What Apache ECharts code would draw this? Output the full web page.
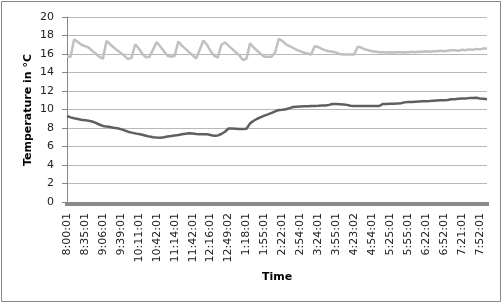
<!DOCTYPE html>
<html>
<head>
<meta charset="utf-8">
<script src="https://cdn.jsdelivr.net/npm/echarts@6/dist/echarts.min.js"></script>
<style>
html,body{margin:0;padding:0;background:#fff;}
#chart{width:503px;height:304px;}
</style>
</head>
<body>
<div id="chart"></div>
<script>
// Visible time labels (every 5th sample)
var timeLabels = ['8:00:01','8:35:01','9:06:01','9:39:01','10:11:01','10:42:01','11:14:01','11:42:01','12:16:01','12:49:02','1:18:01','1:55:01','2:22:01','2:54:01','3:24:01','3:55:01','4:23:02','4:54:01','5:25:01','5:55:01','6:22:01','6:52:01','7:21:01','7:52:01'];
var samplesPerLabel = 5;

// Upper (light) temperature series
var seriesLight = [
15.7,15.7,17.6,17.3,17.0,16.85,16.7,16.35,16.05,15.7,
15.5,17.4,17.05,16.7,16.4,16.1,15.8,15.45,15.6,17.05,
16.6,16.0,15.65,15.7,16.5,17.3,16.8,16.3,15.8,15.7,
15.8,17.35,16.9,16.55,16.2,15.85,15.5,16.5,17.45,17.0,
16.3,15.8,15.6,17.0,17.25,16.9,16.55,16.2,15.85,15.35,
15.5,17.15,16.7,16.35,16.0,15.7,15.7,15.7,16.2,17.65,
17.4,17.05,16.85,16.65,16.45,16.3,16.15,16.05,15.95,16.85,
16.75,16.55,16.4,16.3,16.25,16.15,16.0,15.95,15.95,15.95,
15.95,16.8,16.7,16.5,16.4,16.3,16.25,16.2,16.2,16.15,
16.2,16.15,16.2,16.2,16.15,16.2,16.25,16.2,16.25,16.25,
16.3,16.25,16.3,16.3,16.35,16.3,16.35,16.4,16.4,16.35,
16.45,16.4,16.5,16.45,16.55,16.5,16.6,16.6
];

// Lower (dark) temperature series
var seriesDark = [
9.3,9.15,9.05,8.98,8.9,8.85,8.78,8.7,8.55,8.38,
8.22,8.15,8.1,8.03,7.98,7.88,7.75,7.6,7.5,7.42,
7.34,7.27,7.17,7.07,7.0,6.97,6.95,7.0,7.07,7.13,
7.2,7.25,7.32,7.38,7.42,7.4,7.35,7.32,7.32,7.32,
7.25,7.15,7.2,7.35,7.6,7.95,7.95,7.93,7.9,7.9,
7.92,8.5,8.78,9.0,9.17,9.33,9.47,9.63,9.8,9.95,
9.98,10.03,10.15,10.27,10.3,10.32,10.34,10.36,10.38,10.39,
10.4,10.42,10.44,10.5,10.6,10.6,10.58,10.55,10.5,10.4,
10.38,10.38,10.38,10.38,10.38,10.38,10.38,10.38,10.6,10.6,
10.62,10.63,10.65,10.67,10.77,10.8,10.82,10.84,10.86,10.88,
10.9,10.92,10.95,10.97,10.99,11.01,11.03,11.1,11.12,11.15,
11.18,11.2,11.23,11.25,11.27,11.2,11.15,11.1
];

var yTicks = {min:0, max:20, interval:2};

var categories = [];
for (var i = 0; i < seriesLight.length; i++) {
  categories.push(i % samplesPerLabel === 0 && timeLabels[i / samplesPerLabel] ? timeLabels[i / samplesPerLabel] : '');
}

var FONT = 'DejaVu Sans';
var chart = echarts.init(document.getElementById('chart'), null, {renderer:'canvas'});
chart.setOption({
  animation: false,
  backgroundColor: '#ffffff',
  grid: {left: 67, top: 17, width: 420, height: 185, containLabel: false},
  xAxis: {
    type: 'category',
    data: categories,
    boundaryGap: false,
    axisLine: {show: true, lineStyle: {color: '#868686', width: 1}},
    axisTick: {show: true, interval: 0, length: 4, lineStyle: {color: '#8a8a8a', width: 4}},
    axisLabel: {interval: samplesPerLabel - 1, rotate: 90, margin: 11, fontFamily: FONT, fontSize: 11, color: '#222'},
    splitLine: {show: false}
  },
  yAxis: {
    type: 'value',
    min: yTicks.min, max: yTicks.max, interval: yTicks.interval,
    axisLine: {show: true, lineStyle: {color: '#868686', width: 1}},
    axisTick: {show: true, length: 5, lineStyle: {color: '#868686'}},
    axisLabel: {margin: 13, fontFamily: FONT, fontSize: 11, color: '#222'},
    splitLine: {show: true, lineStyle: {color: '#b8b8b8', width: 1}}
  },
  series: [
    {type: 'line', data: seriesLight, showSymbol: false, symbol: 'none',
     lineStyle: {color: '#c0c0c0', width: 2.5}, z: 3},
    {type: 'line', data: seriesDark, showSymbol: false, symbol: 'none',
     lineStyle: {color: '#5f5f5f', width: 2.5}, z: 4}
  ],
  graphic: [
    {type: 'rect', shape: {x: 1.5, y: 1.5, width: 499, height: 300},
     style: {fill: 'none', stroke: '#868686', lineWidth: 1}, silent: true},
    {type: 'text', x: 28, y: 110, rotation: Math.PI / 2,
     style: {text: 'Temperature in °C', font: 'bold 11px "DejaVu Sans"', fill: '#000', align: 'center', verticalAlign: 'middle'}},
    {type: 'text', x: 277, y: 277,
     style: {text: 'Time', font: 'bold 11px "DejaVu Sans"', fill: '#000', align: 'center', verticalAlign: 'middle'}}
  ]
});
</script>
</body>
</html>
